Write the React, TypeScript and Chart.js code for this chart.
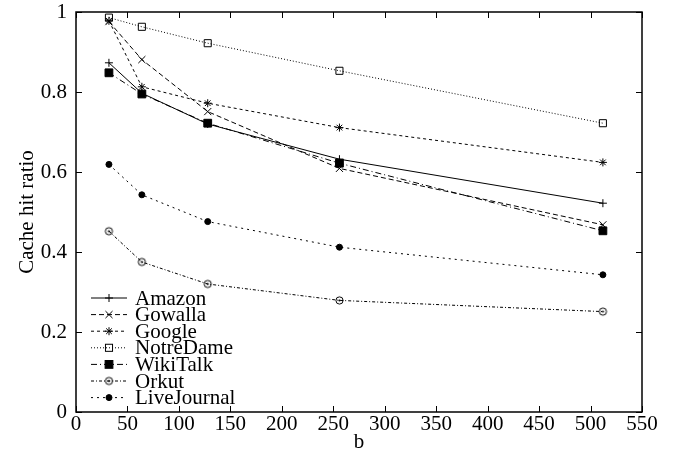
import React, { useEffect, useRef } from 'react';
import { Chart, registerables } from 'chart.js';
Chart.register(...registerables);

const bValues = [32, 64, 128, 256, 512];
const seriesNames = ['Amazon', 'Gowalla', 'Google', 'NotreDame', 'WikiTalk', 'Orkut', 'LiveJournal'];
const amazon = [0.873, 0.797, 0.72, 0.632, 0.522];
const gowalla = [0.976, 0.881, 0.751, 0.609, 0.468];
const google = [0.978, 0.813, 0.772, 0.711, 0.624];
const notreDame = [0.986, 0.963, 0.922, 0.853, 0.722];
const wikiTalk = [0.848, 0.795, 0.722, 0.622, 0.453];
const orkut = [0.452, 0.375, 0.32, 0.279, 0.251];
const liveJournal = [0.619, 0.543, 0.476, 0.412, 0.343];
const seriesValues = [amazon, gowalla, google, notreDame, wikiTalk, orkut, liveJournal];

const xMin = 0, xMax = 550, xStep = 50;
const yMin = 0, yMax = 1, yStep = 0.2;
const xTitle = 'b';
const yTitle = 'Cache hit ratio';

const FONT = "'Liberation Serif', 'DejaVu Serif', serif";

function makeDotCircle(): HTMLCanvasElement {
  const c = document.createElement('canvas');
  c.width = 11; c.height = 11;
  const g = c.getContext('2d')!;
  g.strokeStyle = '#000';
  g.lineWidth = 1;
  g.beginPath(); g.arc(5.5, 5.5, 3.6, 0, Math.PI * 2); g.stroke();
  g.fillStyle = '#000';
  g.beginPath(); g.arc(5.5, 5.5, 1.1, 0, Math.PI * 2); g.fill();
  return c;
}

type Sty = { dash: number[]; point: any; radius: number; fill: boolean };

function drawMarker(ctx: CanvasRenderingContext2D, s: Sty, x: number, y: number) {
  ctx.save();
  ctx.setLineDash([]);
  ctx.strokeStyle = '#000';
  ctx.fillStyle = '#000';
  ctx.lineWidth = 1;
  const r = s.radius;
  if (s.point instanceof HTMLCanvasElement) {
    ctx.drawImage(s.point, x - s.point.width / 2, y - s.point.height / 2);
  } else if (s.point === 'cross') {
    ctx.beginPath(); ctx.moveTo(x - r, y); ctx.lineTo(x + r, y); ctx.moveTo(x, y - r); ctx.lineTo(x, y + r); ctx.stroke();
  } else if (s.point === 'crossRot') {
    const d = r * Math.SQRT1_2;
    ctx.beginPath(); ctx.moveTo(x - d, y - d); ctx.lineTo(x + d, y + d); ctx.moveTo(x - d, y + d); ctx.lineTo(x + d, y - d); ctx.stroke();
  } else if (s.point === 'star') {
    const d = r * Math.SQRT1_2;
    ctx.beginPath(); ctx.moveTo(x - r, y); ctx.lineTo(x + r, y); ctx.moveTo(x, y - r); ctx.lineTo(x, y + r);
    ctx.moveTo(x - d, y - d); ctx.lineTo(x + d, y + d); ctx.moveTo(x - d, y + d); ctx.lineTo(x + d, y - d); ctx.stroke();
  } else if (s.point === 'rect') {
    const d = r * Math.SQRT1_2;
    if (s.fill) ctx.fillRect(x - d, y - d, 2 * d, 2 * d);
    ctx.strokeRect(x - d, y - d, 2 * d, 2 * d);
  } else if (s.point === 'circle') {
    ctx.beginPath(); ctx.arc(x, y, r, 0, Math.PI * 2);
    if (s.fill) ctx.fill();
    ctx.stroke();
  }
  ctx.restore();
}

export default function App() {
  const ref = useRef<HTMLCanvasElement | null>(null);
  useEffect(() => {
    if (!ref.current) return;
    const dotCircle = makeDotCircle();
    const styles: Sty[] = [
      { dash: [], point: 'cross', radius: 4, fill: false },
      { dash: [5, 3], point: 'crossRot', radius: 5, fill: false },
      { dash: [3, 3], point: 'star', radius: 4, fill: false },
      { dash: [1, 2], point: 'rect', radius: 5, fill: false },
      { dash: [6, 3, 1, 3], point: 'rect', radius: 5.5, fill: true },
      { dash: [3, 2, 1, 2], point: dotCircle, radius: 4, fill: false },
      { dash: [2, 4], point: 'circle', radius: 3, fill: true },
    ];
    const datasets = seriesNames.map((name, i) => ({
      label: name,
      data: bValues.map((b, j) => ({ x: b, y: seriesValues[i][j] })),
      borderColor: '#000',
      backgroundColor: styles[i].fill ? '#000' : 'rgba(0,0,0,0)',
      borderWidth: 1,
      borderDash: styles[i].dash,
      pointStyle: styles[i].point,
      pointRadius: styles[i].radius,
      pointBorderColor: '#000',
      pointBackgroundColor: styles[i].fill ? '#000' : 'rgba(0,0,0,0)',
      pointBorderWidth: 1,
      fill: false,
      tension: 0,
    }));

    const framePlugin = {
      id: 'frame',
      afterDraw(chart: any) {
        const ctx: CanvasRenderingContext2D = chart.ctx;
        const a = chart.chartArea;
        const xs = chart.scales.x, ys = chart.scales.y;
        ctx.save();
        ctx.strokeStyle = '#000';
        ctx.lineWidth = 1.5;
        ctx.setLineDash([]);
        ctx.strokeRect(a.left, a.top, a.right - a.left, a.bottom - a.top);
        ctx.lineWidth = 1;
        const tl = 6;
        xs.ticks.forEach((t: any) => {
          const px = Math.round(xs.getPixelForValue(t.value)) + 0.5;
          ctx.beginPath();
          ctx.moveTo(px, a.bottom); ctx.lineTo(px, a.bottom - tl);
          ctx.moveTo(px, a.top); ctx.lineTo(px, a.top + tl);
          ctx.stroke();
        });
        ys.ticks.forEach((t: any) => {
          const py = Math.round(ys.getPixelForValue(t.value)) + 0.5;
          ctx.beginPath();
          ctx.moveTo(a.left, py); ctx.lineTo(a.left + tl, py);
          ctx.moveTo(a.right, py); ctx.lineTo(a.right - tl, py);
          ctx.stroke();
        });
        ctx.font = `21px ${FONT}`;
        ctx.fillStyle = '#000';
        // axis titles
        ctx.textAlign = 'center';
        ctx.textBaseline = 'alphabetic';
        ctx.fillText(xTitle, (a.left + a.right) / 2, 448);
        ctx.save();
        ctx.translate(33, (a.top + a.bottom) / 2);
        ctx.rotate(-Math.PI / 2);
        ctx.fillText(yTitle, 0, 0);
        ctx.restore();
        // legend
        const lx0 = a.left + 15, lx1 = a.left + 51, tx = a.left + 59;
        const rowY0 = a.bottom - 114, rowH = 16.6;
        ctx.textBaseline = 'middle';
        ctx.textAlign = 'left';
        chart.data.datasets.forEach((ds: any, i: number) => {
          const y = rowY0 + i * rowH;
          ctx.save();
          ctx.lineWidth = 1;
          ctx.setLineDash(styles[i].dash);
          ctx.beginPath(); ctx.moveTo(lx0, y); ctx.lineTo(lx1, y); ctx.stroke();
          ctx.restore();
          drawMarker(ctx, styles[i], (lx0 + lx1) / 2, y);
          ctx.fillText(ds.label, tx, y + 1);
        });
        ctx.restore();
      },
    };

    const chart = new Chart(ref.current, {
      type: 'line',
      data: { datasets: datasets as any },
      options: {
        animation: false,
        responsive: false,
        maintainAspectRatio: false,
        layout: { padding: { top: 12, right: 33, left: 0, bottom: 0 } },
        plugins: { legend: { display: false }, tooltip: { enabled: false } },
        scales: {
          x: {
            type: 'linear',
            min: xMin, max: xMax,
            grid: { display: false, drawTicks: false },
            border: { display: false },
            ticks: { stepSize: xStep, color: '#000', font: { family: FONT, size: 21 }, padding: 0, maxRotation: 0, autoSkip: false },
            afterFit: (s: any) => { s.height = 38; s.paddingLeft = 0; s.paddingRight = 0; },
          },
          y: {
            type: 'linear',
            min: yMin, max: yMax,
            grid: { display: false, drawTicks: false },
            border: { display: false },
            ticks: { stepSize: yStep, color: '#000', font: { family: FONT, size: 21 }, padding: 9,
              callback: (v: any) => String(Math.round(Number(v) * 10) / 10) },
            afterFit: (s: any) => { s.width = 76; s.paddingTop = 0; s.paddingBottom = 0; },
          },
        },
      },
      plugins: [framePlugin],
    });
    return () => chart.destroy();
  }, []);
  return (
    <div style={{ position: 'fixed', left: 0, top: 0, width: 675, height: 450, background: '#fff' }}>
      <canvas ref={ref} width={675} height={450} style={{ width: 675, height: 450 }} />
    </div>
  );
}
